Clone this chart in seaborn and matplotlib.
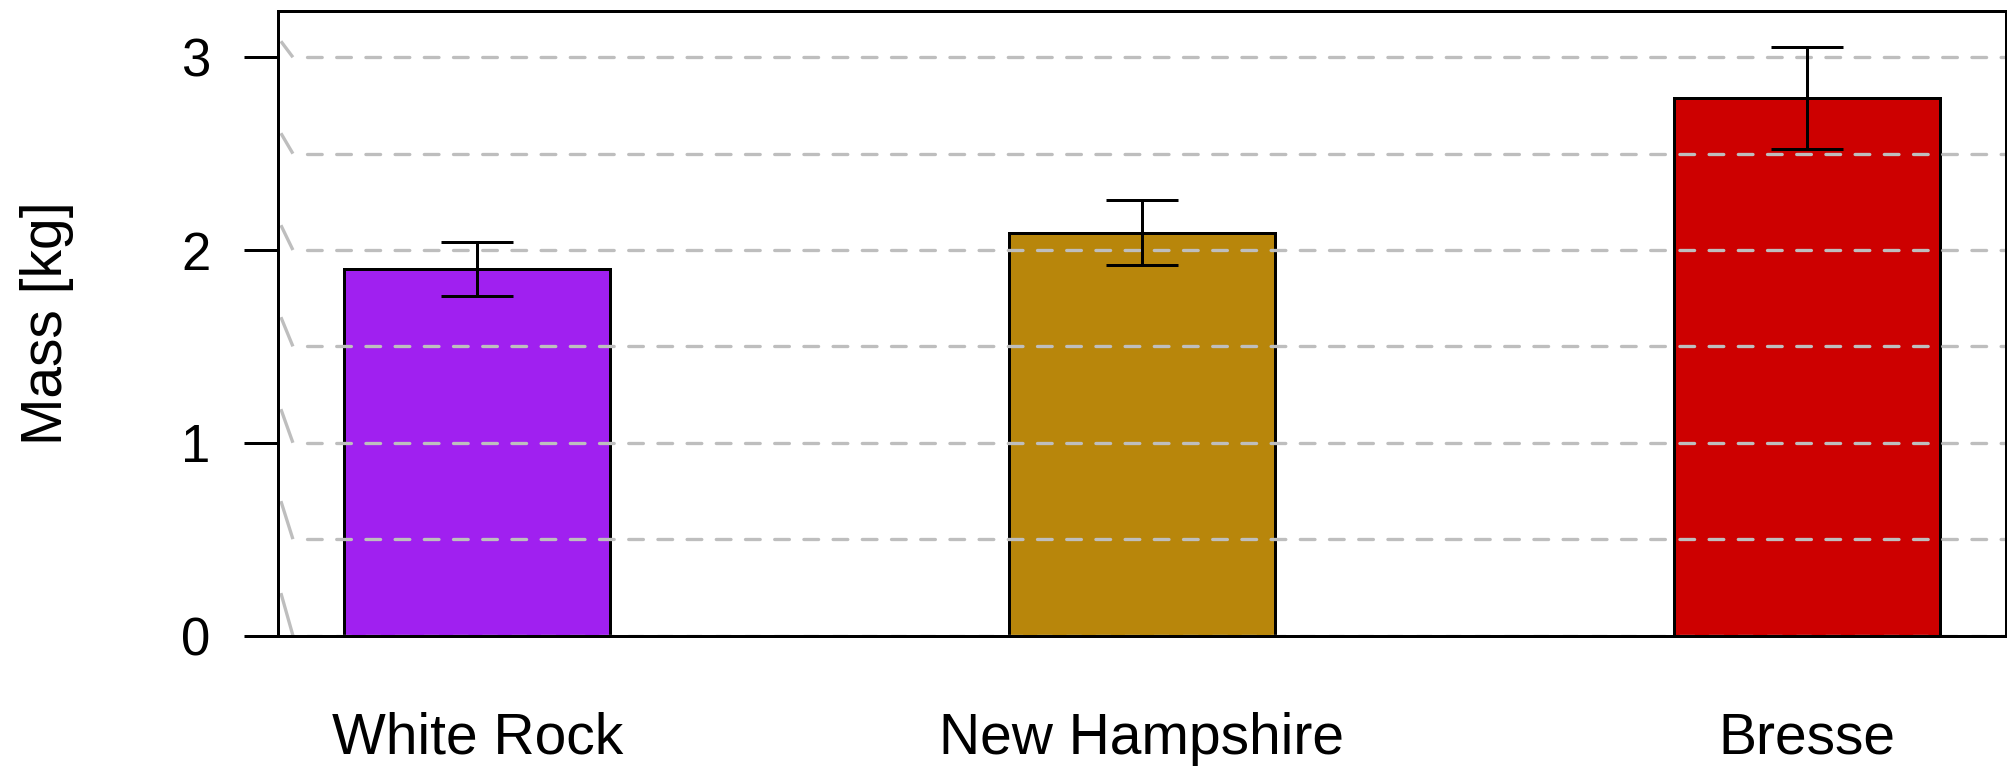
import numpy as np
import pandas as pd
import matplotlib
matplotlib.use("Agg")
import matplotlib.pyplot as plt
import seaborn as sns

# Mean body mass per breed with error half-widths
breeds = ["White Rock", "New Hampshire", "Bresse"]
mass_kg = [1.90, 2.09, 2.79]
mass_err = [0.14, 0.17, 0.265]
bar_colors = ["#A020F0", "#B8860B", "#CD0000"]
y_ticks = [0, 1, 2, 3]
grid_levels = [0, 0.5, 1, 1.5, 2, 2.5, 3]
y_max = 3.24

sns.set_theme(style="white")
plt.rcParams["font.family"] = ["Liberation Sans", "DejaVu Sans"]

DPI = 100
FIG_W, FIG_H = 20.08, 7.75
PT = 72 / DPI  # points per pixel

fig = plt.figure(figsize=(FIG_W, FIG_H), dpi=DPI)
ax_rect = [0.1384, 0.18, 0.8606, 0.8058]
ax = fig.add_axes(ax_rect)

df = pd.DataFrame({"breed": breeds, "mass": mass_kg})
sns.barplot(data=df, x="breed", y="mass", hue="breed", palette=bar_colors,
            width=0.4, edgecolor="black", linewidth=3 * PT, saturation=1,
            errorbar=None, legend=False, ax=ax, zorder=1)

ax.set_xlim(-0.3, 2.3)
ax.set_ylim(0, y_max)

# dashed horizontal guides drawn over the bars
ax_w_px = ax_rect[2] * FIG_W * DPI
ax_h_px = ax_rect[3] * FIG_H * DPI
px_per_unit = ax_h_px / y_max
grid_lw = 3.3 * PT
for g in grid_levels:
    ax.plot([29 / ax_w_px, 1], [g, g], transform=ax.get_yaxis_transform(),
            color="#BEBEBE", lw=grid_lw, linestyle=(0, (14.7 / 3.3, 14.5 / 3.3)),
            dash_capstyle="round", zorder=2)
    rise = 16 + (3 - g) * 8.8
    ax.plot([3 / ax_w_px, 15 / ax_w_px], [g + rise / px_per_unit, g],
            transform=ax.get_yaxis_transform(), color="#BEBEBE", lw=grid_lw,
            solid_capstyle="butt", zorder=2)

ax.errorbar(np.arange(len(breeds)), mass_kg, yerr=mass_err, fmt="none",
            ecolor="black", elinewidth=3 * PT, capsize=36 * PT,
            capthick=3 * PT, zorder=3)

ax.set_yticks(y_ticks)
ax.set_yticklabels([str(t) for t in y_ticks])
ax.tick_params(axis="y", left=True, direction="out", length=34 * PT,
               width=3 * PT, pad=24, labelsize=38, colors="black")
ax.tick_params(axis="x", bottom=False, length=0, pad=55, labelsize=41,
               colors="black")
ax.set_xlabel("")
ax.set_ylabel("Mass [kg]", fontsize=41, color="black")
ax.yaxis.set_label_coords(-0.118, 0.5)

for side in ["left", "right", "top", "bottom"]:
    ax.spines[side].set_visible(True)
    ax.spines[side].set_color("black")
    ax.spines[side].set_linewidth(3 * PT)
    ax.spines[side].set_zorder(4)

fig.savefig("out.png", dpi=DPI, facecolor="white")
